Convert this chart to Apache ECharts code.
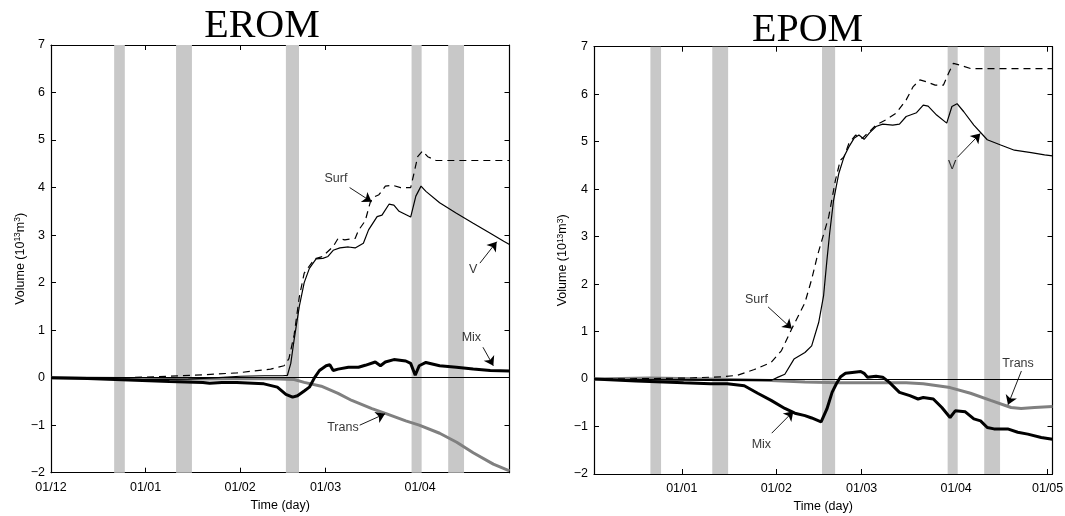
<!DOCTYPE html>
<html>
<head>
<meta charset="utf-8">
<script src="https://cdn.jsdelivr.net/npm/echarts@6/dist/echarts.min.js"></script>
<style>
  html, body { margin: 0; padding: 0; background: #fff; }
  #chart { width: 1065px; height: 516px; }
</style>
</head>
<body>
<div id="chart"></div>
<script>
// Time axis: days counted from 1 December; ticks at the first of each month.
const monthStarts = [0, 31, 62, 90, 121, 151];
const monthLabels = ['01/12', '01/01', '01/02', '01/03', '01/04', '01/05'];

// Shaded event periods (days)
const bandStarts = [20.7, 41.0, 77.0, 118.2, 130.2];
const bandEnds   = [24.2, 46.2, 81.3, 121.5, 135.4];

// ---- EROM (volumes in 10^13 m^3) ----
const eromSurfDays = [0, 10, 25.5, 38.8, 50, 60.9, 72, 76.4, 78, 79.7, 81.4, 83, 86.4, 89, 92.5, 94.1, 96.3, 99.7, 100.8, 103, 104.7, 105.8, 107.5, 109.6, 111.8, 114.6, 117.9, 119, 120.2, 121.8, 123.5, 126.2, 135, 150.3];
const eromSurfVals = [0, 0, 0, 0.03, 0.06, 0.1, 0.18, 0.25, 0.4, 0.9, 1.7, 2.2, 2.5, 2.55, 2.76, 2.93, 2.9, 2.93, 3.1, 3.3, 3.7, 3.8, 3.85, 4.03, 4.05, 4.0, 4.0, 4.3, 4.65, 4.77, 4.65, 4.57, 4.57, 4.57];

const eromVDays = [0, 15, 30, 45, 55, 62, 70, 76, 77.5, 78.6, 79.7, 81.4, 83, 84.7, 86.9, 89.1, 90.8, 92.5, 94.7, 97.5, 99.7, 102.4, 104.1, 106.9, 108.5, 110.8, 112.4, 114.1, 117.9, 119.6, 121.3, 122.9, 127.4, 132.9, 138.4, 144, 148.4, 150.3];
const eromVVals = [0, -0.02, -0.04, -0.03, 0.0, 0.03, 0.04, 0.04, 0.05, 0.3, 0.8, 1.5, 2.0, 2.3, 2.5, 2.51, 2.55, 2.68, 2.73, 2.75, 2.73, 2.83, 3.11, 3.39, 3.42, 3.65, 3.63, 3.5, 3.38, 3.82, 4.03, 3.92, 3.68, 3.46, 3.25, 3.04, 2.87, 2.8];

const eromMixDays = [0, 12, 25.5, 38.8, 49.8, 52, 56, 60.9, 69.8, 74.2, 77, 79.2, 80.8, 83, 84.7, 86.4, 88, 90.2, 91.4, 92.5, 94.1, 97.5, 100.8, 103, 106.3, 108, 109.6, 112.4, 116.3, 117.9, 119.4, 120.7, 122.9, 127.4, 132.9, 138.4, 144, 150.3];
const eromMixVals = [0, -0.02, -0.05, -0.08, -0.1, -0.12, -0.1, -0.1, -0.13, -0.2, -0.35, -0.41, -0.38, -0.28, -0.2, 0.0, 0.15, 0.25, 0.27, 0.15, 0.18, 0.22, 0.22, 0.26, 0.33, 0.25, 0.33, 0.38, 0.35, 0.3, 0.05, 0.25, 0.32, 0.25, 0.22, 0.18, 0.15, 0.14];

const eromTransDays = [0, 25, 50, 70, 79.7, 83, 88.6, 94.1, 98.6, 105.2, 109.6, 116.3, 120.7, 127.4, 133, 138.4, 145, 150.3];
const eromTransVals = [0, -0.02, -0.03, -0.02, -0.04, -0.1, -0.18, -0.33, -0.48, -0.65, -0.75, -0.91, -1.0, -1.17, -1.36, -1.58, -1.82, -1.96];

// ---- EPOM ----
const epomSurfDays = [2.2, 20, 32.7, 44.8, 49.3, 54.8, 60.3, 63.7, 67, 69.2, 71.4, 73.6, 75.5, 77.3, 79.2, 81.4, 83, 84.2, 85.8, 88, 90.2, 92.5, 94.7, 98, 101.3, 104.6, 106.9, 109.1, 111.3, 114.1, 116.8, 118.5, 120.1, 122.4, 125.7, 140, 152.6];
const epomSurfVals = [0, 0.01, 0.02, 0.05, 0.08, 0.2, 0.35, 0.6, 1.05, 1.33, 1.61, 2.1, 2.6, 3.0, 3.42, 4.19, 4.61, 4.68, 4.96, 5.14, 5.07, 5.21, 5.35, 5.46, 5.6, 5.88, 6.16, 6.3, 6.26, 6.19, 6.19, 6.44, 6.65, 6.61, 6.54, 6.54, 6.54];

const epomVDays = [2.2, 20, 40, 55, 60.3, 62.6, 64.8, 67.8, 71.4, 73.6, 75.9, 77.5, 78.6, 79.5, 80.8, 82.5, 84.2, 85.8, 87.5, 89.1, 90.8, 92.5, 94.7, 96.9, 100.2, 102.4, 104.6, 108, 110.2, 111.8, 114.6, 117.9, 119.6, 121.3, 123.5, 126.8, 131.2, 135.6, 140.1, 145.6, 150, 152.6];
const epomVVals = [0, -0.02, -0.03, -0.03, -0.03, 0.04, 0.1, 0.42, 0.56, 0.7, 1.19, 1.75, 2.5, 3.07, 3.77, 4.33, 4.68, 4.89, 5.07, 5.14, 5.05, 5.18, 5.32, 5.37, 5.35, 5.37, 5.53, 5.61, 5.77, 5.75, 5.56, 5.39, 5.74, 5.8, 5.63, 5.35, 5.04, 4.93, 4.82, 4.77, 4.72, 4.7];

const epomMixDays = [2.2, 16, 31.6, 40.4, 45.9, 51.5, 55.9, 60.3, 64.8, 68.1, 71.4, 73.6, 76.7, 78.6, 80.3, 81.7, 83.1, 84.7, 86.9, 89.7, 90.8, 91.9, 94.7, 96.9, 99.1, 102.4, 105.8, 108.5, 110.2, 113.5, 116.3, 119, 120.7, 124, 126.8, 129, 131.2, 133.4, 137.9, 141.2, 144.5, 148.9, 152.6];
const epomMixVals = [0, -0.04, -0.08, -0.1, -0.1, -0.14, -0.3, -0.45, -0.62, -0.72, -0.77, -0.82, -0.9, -0.63, -0.28, -0.1, 0.05, 0.12, 0.14, 0.16, 0.12, 0.04, 0.06, 0.04, -0.07, -0.28, -0.35, -0.42, -0.39, -0.42, -0.6, -0.81, -0.67, -0.69, -0.84, -0.88, -1.02, -1.05, -1.05, -1.12, -1.16, -1.23, -1.27];

const epomTransDays = [2.2, 20.5, 40, 60.3, 71.4, 82.5, 104.6, 110.2, 119, 125.7, 132.3, 139, 142.3, 146.7, 152.6];
const epomTransVals = [0, 0.02, 0.0, -0.03, -0.06, -0.08, -0.08, -0.1, -0.18, -0.3, -0.45, -0.6, -0.62, -0.6, -0.58];

// Curve labels and their pointer arrows, in (day, volume) units
const eromNoteText = ['Surf', 'V', 'Mix', 'Trans'];
const eromNoteAt   = [[93.4, 4.18], [138.4, 2.27], [137.8, 0.85], [95.7, -1.06]];
const eromArrowFrom = [[97.9, 4.0], [140.6, 2.41], [141.6, 0.64], [101.2, -1.0]];
const eromArrowTo   = [[105.1, 3.7], [146.1, 2.86], [145.0, 0.25], [109.5, -0.76]];

const epomNoteText = ['V', 'Surf', 'Mix', 'Trans'];
const epomNoteAt   = [[119.7, 4.5], [55.5, 1.67], [57.1, -1.39], [141.3, 0.32]];
const epomArrowFrom = [[121.4, 4.67], [59.3, 1.52], [60.5, -1.14], [142.4, 0.17]];
const epomArrowTo   = [[128.9, 5.17], [67.1, 1.06], [67.6, -0.68], [138.0, -0.54]];

const FONT = '"Liberation Sans", Arial, Helvetica, sans-serif';
const zip = (a, b) => a.map((d, i) => [d, b[i]]);
const fmtY = v => (v < 0 ? '\u2212' + Math.abs(v) : String(v));

function monthTicks(min, max) {
  return monthStarts.filter(d => d >= min - 1e-6 && d <= max + 1e-6);
}
function monthLabel(v) {
  const i = monthStarts.indexOf(v);
  return i >= 0 ? monthLabels[i] : '';
}

const panels = [
  { min: 0, max: 150.3, grid: { left: 51, top: 45, width: 458.5, height: 427.7 }, nameGap: 18,
    surf: zip(eromSurfDays, eromSurfVals), v: zip(eromVDays, eromVVals),
    mix: zip(eromMixDays, eromMixVals), trans: zip(eromTransDays, eromTransVals),
    noteText: eromNoteText, noteAt: eromNoteAt, from: eromArrowFrom, to: eromArrowTo },
  { min: 2.2, max: 152.6, grid: { left: 594, top: 46.7, width: 458.5, height: 427.3 }, nameGap: 24,
    surf: zip(epomSurfDays, epomSurfVals), v: zip(epomVDays, epomVVals),
    mix: zip(epomMixDays, epomMixVals), trans: zip(epomTransDays, epomTransVals),
    noteText: epomNoteText, noteAt: epomNoteAt, from: epomArrowFrom, to: epomArrowTo }
];

const grids = [], xAxes = [], yAxes = [], series = [];
const frame = { show: true, onZero: false, lineStyle: { color: '#000', width: 1.2 } };
const tickIn = { show: true, inside: true, length: 5, lineStyle: { color: '#000', width: 1 } };

panels.forEach((p, k) => {
  grids.push(Object.assign({ outerBoundsMode: 'none', containLabel: false }, p.grid));
  const ticks = monthTicks(p.min, p.max);
  // bottom (labelled) and top (mirror) time axes
  xAxes.push({
    type: 'value', gridIndex: k, position: 'bottom', min: p.min, max: p.max,
    axisLine: frame, splitLine: { show: false },
    axisTick: Object.assign({ customValues: ticks }, tickIn),
    axisLabel: { customValues: ticks, formatter: monthLabel, color: '#000',
                 fontSize: 12.5, fontFamily: FONT, margin: 8, showMinLabel: true, showMaxLabel: true },
    name: 'Time (day)', nameLocation: 'middle', nameGap: 25,
    nameTextStyle: { color: '#000', fontSize: 12.5, fontFamily: FONT }
  });
  xAxes.push({
    type: 'value', gridIndex: k, position: 'top', min: p.min, max: p.max,
    axisLine: frame, splitLine: { show: false },
    axisTick: Object.assign({ customValues: ticks }, tickIn),
    axisLabel: { show: false }
  });
  // left (labelled) and right (mirror) volume axes
  yAxes.push({
    type: 'value', gridIndex: k, position: 'left', min: -2, max: 7, interval: 1,
    axisLine: frame, splitLine: { show: false }, axisTick: tickIn,
    axisLabel: { formatter: fmtY, color: '#000', fontSize: 12.5, fontFamily: FONT, margin: 6 },
    name: 'Volume (10{s|13}m{s|3})', nameLocation: 'middle', nameGap: p.nameGap,
    nameTextStyle: { color: '#000', fontSize: 12.5, fontFamily: FONT,
      rich: { s: { fontSize: 8.5, fontFamily: FONT, color: '#000', verticalAlign: 'top', lineHeight: 14 } } }
  });
  yAxes.push({
    type: 'value', gridIndex: k, position: 'right', min: -2, max: 7, interval: 1,
    axisLine: frame, splitLine: { show: false }, axisTick: tickIn, axisLabel: { show: false }
  });

  const ax = { xAxisIndex: 2 * k, yAxisIndex: 2 * k };
  const lineBase = Object.assign({ type: 'line', showSymbol: false, symbol: 'none', silent: true,
                                   animation: false, clip: true }, ax);

  // shaded periods and the zero reference line
  series.push(Object.assign({}, lineBase, {
    data: [[p.min, 0]], lineStyle: { opacity: 0 }, z: 1,
    markArea: {
      silent: true, itemStyle: { color: '#c8c8c8' },
      data: bandStarts.map((s, i) => [{ xAxis: s }, { xAxis: bandEnds[i] }])
    },
    markLine: {
      silent: true, symbol: 'none', label: { show: false },
      lineStyle: { color: '#000', width: 1, type: 'solid' },
      data: [{ yAxis: 0 }]
    }
  }));
  series.push(Object.assign({}, lineBase, { name: 'Trans', data: p.trans, z: 3,
    lineStyle: { color: '#808080', width: 3 } }));
  series.push(Object.assign({}, lineBase, { name: 'Mix', data: p.mix, z: 4,
    lineStyle: { color: '#000', width: 3 } }));
  series.push(Object.assign({}, lineBase, { name: 'V', data: p.v, z: 5,
    lineStyle: { color: '#000', width: 1.2 } }));
  series.push(Object.assign({}, lineBase, { name: 'Surf', data: p.surf, z: 5,
    lineStyle: { color: '#000', width: 1.2, type: [7, 5] } }));

  // curve labels with arrows
  series.push(Object.assign({
    type: 'scatter', symbolSize: 0, silent: true, animation: false, z: 6,
    data: p.noteText.map((t, i) => ({ name: t, value: p.noteAt[i] })),
    label: { show: true, position: 'inside', formatter: '{b}', color: '#000',
             fontSize: 12.5, fontFamily: FONT },
    markLine: {
      silent: true, symbol: ['none', 'arrow'], symbolSize: 9, label: { show: false },
      itemStyle: { color: '#000' },
      lineStyle: { color: '#000', width: 0.9, type: 'solid' },
      data: p.from.map((f, i) => [{ coord: f }, { coord: p.to[i] }])
    }
  }, ax));
});

const chart = echarts.init(document.getElementById('chart'), null, { renderer: 'canvas' });
chart.setOption({
  backgroundColor: '#fff',
  animation: false,
  grid: grids,
  xAxis: xAxes,
  yAxis: yAxes,
  series: series,
  graphic: [
    { type: 'text', x: 262, y: 26,
      style: { text: 'EROM', fill: '#000', font: '40px "Liberation Serif", "Times New Roman", serif',
               textAlign: 'center', textVerticalAlign: 'middle' } },
    { type: 'text', x: 807.6, y: 30,
      style: { text: 'EPOM', fill: '#000', font: '40px "Liberation Serif", "Times New Roman", serif',
               textAlign: 'center', textVerticalAlign: 'middle' } }
  ]
});
</script>
</body>
</html>
